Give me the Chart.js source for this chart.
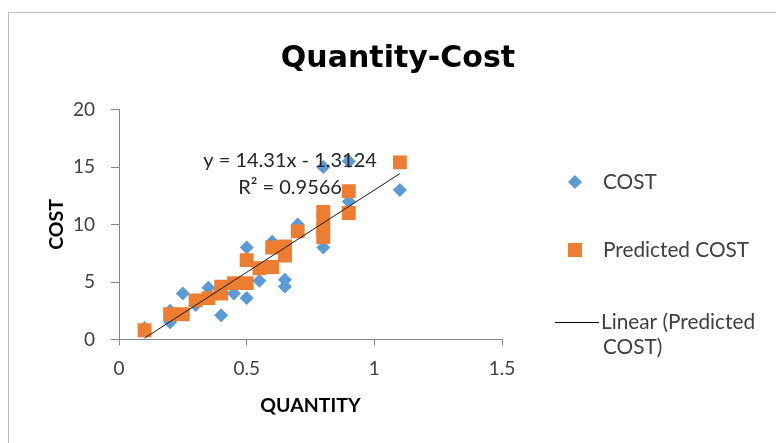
<!DOCTYPE html>
<html><head><meta charset="utf-8">
<script src="https://cdn.jsdelivr.net/npm/chart.js@4.4.0/dist/chart.umd.min.js"></script>
<style>html,body{margin:0;padding:0;background:#fff;overflow:hidden}#wrap{width:776px;height:443px;position:relative}</style>
</head><body><div id="wrap"><canvas id="c" width="776" height="443"></canvas></div>
<script>
// ---- data ----
const costQuantity = [0.1, 0.2, 0.2, 0.25, 0.3, 0.35, 0.4, 0.45, 0.5, 0.5, 0.55, 0.6, 0.65, 0.65, 0.7, 0.8, 0.8, 0.9, 0.9, 1.1];
const costValues   = [1.0, 2.5, 1.5, 4.0, 3.0, 4.5, 2.1, 4.0, 8.0, 3.6, 5.1, 8.5, 5.2, 4.6, 10.0, 15.0, 8.0, 15.5, 12.0, 13.0];
const predQuantity = [0.1, 0.2, 0.25, 0.3, 0.35, 0.4, 0.4, 0.45, 0.5, 0.5, 0.55, 0.6, 0.6, 0.65, 0.65, 0.7, 0.8, 0.8, 0.8, 0.8, 0.9, 0.9, 1.1];
const predValues   = [0.8, 2.2, 2.2, 3.4, 3.6, 4.0, 4.6, 4.9, 4.9, 6.9, 6.2, 6.3, 8.0, 8.1, 7.3, 9.4, 11.1, 10.4, 9.6, 8.9, 12.9, 11.0, 15.4];
const trendSlope = 14.31;
const trendIntercept = -1.3124;
const trendR2 = 0.9566;
const trendRange = [0.1, 1.1];
const xTickValues = [0, 0.5, 1, 1.5];
const yTickValues = [0, 5, 10, 15, 20];
const seriesNames = ['COST', 'Predicted COST', 'Linear (Predicted COST)'];

const FONT = 'Lato, "Open Sans", sans-serif';
const BLUE = '#5B9BD5', ORANGE = '#ED7D31';

const costPts = costQuantity.map((x, i) => ({x, y: costValues[i]}));
const predPts = predQuantity.map((x, i) => ({x, y: predValues[i]}));
const trendPts = trendRange.map(x => ({x, y: trendSlope * x + trendIntercept}));

const extras = {
  id: 'extras',
  beforeDraw(chart) {
    const ctx = chart.ctx;
    ctx.save();
    ctx.fillStyle = '#fff';
    ctx.fillRect(0, 0, chart.width, chart.height);
    ctx.strokeStyle = '#BDBDBD';
    ctx.lineWidth = 1;
    ctx.strokeRect(8.5, 12.5, 900, 600);
    ctx.restore();
  },
  afterDraw(chart) {
    const ctx = chart.ctx;
    const xs = chart.scales.x, ys = chart.scales.y;
    ctx.save();
    // trendline label
    ctx.fillStyle = '#262626';
    ctx.font = '20px ' + FONT;
    ctx.textAlign = 'center';
    ctx.textBaseline = 'middle';
    const cx = xs.getPixelForValue(0.67);
    ctx.fillText('y = ' + trendSlope + 'x - ' + Math.abs(trendIntercept), cx, ys.getPixelForValue(15.6));
    ctx.fillText('R\u00B2 = ' + trendR2, cx, ys.getPixelForValue(13.2));
    // legend
    ctx.textAlign = 'left';
    ctx.font = '20.8px ' + FONT;
    ctx.fillStyle = BLUE;
    ctx.beginPath();
    ctx.moveTo(575, 175); ctx.lineTo(582, 182); ctx.lineTo(575, 189); ctx.lineTo(568, 182); ctx.closePath();
    ctx.fill();
    ctx.fillStyle = ORANGE;
    ctx.fillRect(568, 243, 14, 14);
    ctx.strokeStyle = '#000';
    ctx.lineWidth = 1;
    ctx.beginPath(); ctx.moveTo(555, 322.5); ctx.lineTo(599, 322.5); ctx.stroke();
    ctx.fillStyle = '#404040';
    ctx.fillText(seriesNames[0], 603, 182);
    ctx.fillText(seriesNames[1], 603, 250);
    ctx.fillText('Linear (Predicted', 601, 322);
    ctx.fillText('COST)', 603, 347);
    ctx.restore();
  }
};

new Chart(document.getElementById('c'), {
  data: {
    datasets: [
      {type: 'line', label: seriesNames[2], data: trendPts, borderColor: '#1a1a1a', borderWidth: 1, pointRadius: 0, fill: false, order: 0},
      {type: 'scatter', label: seriesNames[1], data: predPts, pointStyle: 'rect', pointRadius: 9.8, pointHoverRadius: 9.8, backgroundColor: ORANGE, borderWidth: 0, order: 1},
      {type: 'scatter', label: seriesNames[0], data: costPts, pointStyle: 'rectRot', pointRadius: 7, pointHoverRadius: 7, backgroundColor: BLUE, borderWidth: 0, order: 2}
    ]
  },
  options: {
    responsive: false,
    animation: false,
    devicePixelRatio: 1,
    layout: {padding: {left: 20, right: 0, top: 0, bottom: 0}},
    plugins: {
      legend: {display: false},
      tooltip: {enabled: false},
      title: {display: true, text: 'Quantity-Cost', color: '#000', font: {family: '"DejaVu Sans", ' + FONT, size: 30, weight: 'bold'}, padding: {top: 41, bottom: 32.5}}
    },
    scales: {
      x: {
        type: 'linear', position: 'bottom', min: 0, max: 1.5,
        afterBuildTicks: s => { s.ticks = xTickValues.map(v => ({value: v})); },
        afterFit: s => { s.height = 103.5; },
        ticks: {color: '#404040', font: {family: FONT, size: 19}, padding: 12, callback: v => String(v)},
        grid: {display: true, drawOnChartArea: false, drawTicks: true, tickLength: 6, color: '#868686'},
        border: {display: true, color: '#868686', width: 1},
        title: {display: true, text: 'QUANTITY', color: '#000', font: {family: FONT, size: 19.5, weight: 'bold'}, padding: {top: 0, bottom: 26}}
      },
      y: {
        type: 'linear', position: 'left', min: 0, max: 20,
        afterBuildTicks: s => { s.ticks = yTickValues.map(v => ({value: v})); },
        afterFit: s => { s.width = 99; },
        ticks: {color: '#404040', font: {family: FONT, size: 19}, padding: 16, callback: v => String(v)},
        grid: {display: true, drawOnChartArea: false, drawTicks: true, tickLength: 8, color: '#868686'},
        border: {display: true, color: '#868686', width: 1},
        title: {display: true, text: 'COST', color: '#000', font: {family: FONT, size: 19.5, weight: 'bold'}, padding: {top: 25, bottom: 0}}
      },
      yR: {
        type: 'linear', position: 'right', display: true,
        grid: {display: false}, ticks: {display: false}, border: {display: false},
        afterFit: s => { s.width = 274; }
      }
    }
  },
  plugins: [extras]
});
</script></body></html>
